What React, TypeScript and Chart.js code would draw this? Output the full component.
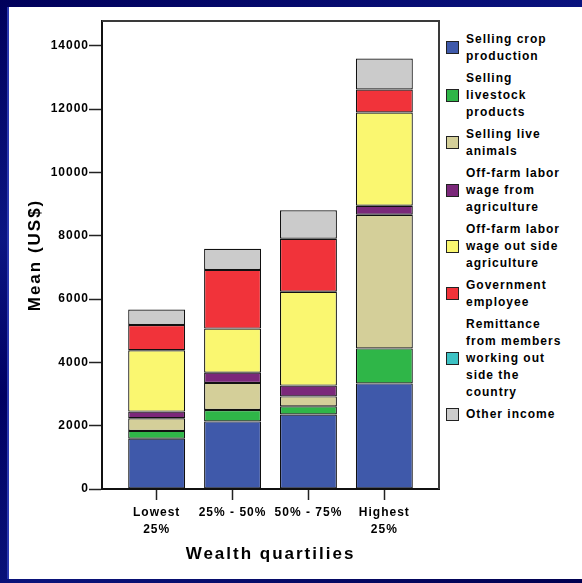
import { useEffect, useRef } from 'react';
import { Chart, registerables } from 'chart.js';

Chart.register(...registerables);

// Wealth quartiles along the x axis (multi-line where the label wraps)
const quartiles: (string | string[])[] = [['Lowest', '25%'], '25% - 50%', '50% - 75%', ['Highest', '25%']];

// Mean household income by source (US$), one value per quartile
const cropSales = [1590, 2135, 2355, 3335];
const livestockProducts = [245, 360, 255, 1105];
const liveAnimals = [400, 855, 315, 4220];
const farmWage = [210, 325, 340, 285];
const nonFarmWage = [1935, 1390, 2965, 2945];
const government = [800, 1855, 1675, 725];
const remittance = [0, 0, 0, 0];
const otherIncome = [485, 665, 895, 980];

const seriesValues = [cropSales, livestockProducts, liveAnimals, farmWage, nonFarmWage, government, remittance, otherIncome];

// Legend text, broken into the lines it is shown on
const seriesLines = [
  ['Selling crop', 'production'],
  ['Selling', 'livestock', 'products'],
  ['Selling live', 'animals'],
  ['Off-farm labor', 'wage from', 'agriculture'],
  ['Off-farm labor', 'wage out side', 'agriculture'],
  ['Government', 'employee'],
  ['Remittance', 'from members', 'working out', 'side the', 'country'],
  ['Other income'],
];

const seriesColors = ['#3f59aa', '#2fb648', '#d4cf99', '#7b287a', '#faf770', '#f1333a', '#3cc1c3', '#cbcbcb'];

// Value-axis ticks and the top of the plot frame
const yTicks = [0, 2000, 4000, 6000, 8000, 10000, 12000, 14000];
const yMax = 14780;

const FONT = "'Liberation Sans', Arial, Helvetica, sans-serif";

// Tracking for the canvas text, a frame along the top and right of the plot,
// and wider tracking for the axis titles.
const chartDecor = {
  id: 'chartDecor',
  beforeUpdate(chart: any) {
    chart.ctx.letterSpacing = '1px';
  },
  beforeDraw(chart: any) {
    chart.ctx.letterSpacing = '1px';
  },
  afterLayout(chart: any) {
    Object.values(chart.scales).forEach((scale: any) => {
      if (scale.__wideTitle) return;
      const drawTitle = scale.drawTitle.bind(scale);
      scale.drawTitle = () => {
        const ctx = chart.ctx;
        ctx.save();
        ctx.letterSpacing = '2px';
        drawTitle();
        ctx.restore();
      };
      scale.__wideTitle = true;
    });
  },
  beforeDatasetsDraw(chart: any) {
    const { ctx, chartArea } = chart;
    const { left, right, top, bottom } = chartArea;
    ctx.save();
    ctx.strokeStyle = '#3a3a3a';
    ctx.lineWidth = 2;
    ctx.beginPath();
    ctx.moveTo(left, top);
    ctx.lineTo(right, top);
    ctx.lineTo(right, bottom);
    ctx.stroke();
    ctx.restore();
  },
};

export default function App() {
  const canvasRef = useRef<HTMLCanvasElement | null>(null);

  useEffect(() => {
    const canvas = canvasRef.current;
    if (!canvas) return;

    Chart.defaults.font.family = FONT;
    Chart.defaults.font.size = 12;
    Chart.defaults.font.weight = 'bold';
    Chart.defaults.color = '#000';

    const chart = new Chart(canvas, {
      type: 'bar',
      data: {
        datasets: seriesValues.map((values, i) => ({
          label: seriesLines[i].join(' '),
          data: values.map((v, q) => ({ x: q, y: v })),
          backgroundColor: seriesColors[i],
          borderColor: '#111',
          borderWidth: 1.2,
          borderSkipped: false,
          inflateAmount: 0,
          barPercentage: 0.75,
          categoryPercentage: 1,
        })),
      },
      options: {
        responsive: false,
        animation: false,
        layout: { padding: { left: 0, right: 6, top: 21, bottom: 0 } },
        plugins: {
          legend: { display: false },
          tooltip: { enabled: false },
        },
        scales: {
          x: {
            type: 'linear',
            min: -0.72,
            max: 3.72,
            stacked: true,
            offset: false,
            afterFit: (s: any) => {
              s.height = 94;
            },
            afterBuildTicks: (s: any) => {
              s.ticks = quartiles.map((_, i) => ({ value: i }));
            },
            grid: {
              offset: false,
              drawOnChartArea: false,
              drawTicks: true,
              tickLength: 11,
              tickColor: '#222',
              tickWidth: 1.5,
            },
            border: { display: true, color: '#111', width: 2 },
            ticks: {
              autoSkip: false,
              maxRotation: 0,
              minRotation: 0,
              padding: 3.8,
              color: '#000',
              font: { size: 12, weight: 'bold', lineHeight: 1.45 },
              callback: (v: any) => (quartiles[Math.round(v)] !== undefined ? quartiles[Math.round(v)] : ''),
            },
            title: {
              display: true,
              text: 'Wealth quartilies',
              color: '#000',
              font: { size: 17, weight: 'bold' },
              padding: { top: 0, bottom: 18.8 },
            },
          },
          y: {
            min: 0,
            max: yMax,
            stacked: true,
            afterFit: (s: any) => {
              s.width = 102;
            },
            afterBuildTicks: (s: any) => {
              s.ticks = yTicks.map((v) => ({ value: v }));
            },
            grid: {
              drawOnChartArea: false,
              drawTicks: true,
              tickLength: 13,
              tickColor: '#222',
              tickWidth: 1.5,
            },
            border: { display: true, color: '#111', width: 2 },
            ticks: {
              padding: 0,
              color: '#000',
              font: { size: 12, weight: 'bold' },
              callback: (v: any) => String(v),
            },
            title: {
              display: true,
              text: 'Mean (US$)',
              color: '#000',
              font: { size: 17, weight: 'bold' },
              padding: { top: 25.1, bottom: 0 },
            },
          },
        },
      } as any,
      plugins: [chartDecor],
    });

    return () => chart.destroy();
  }, []);

  return (
    <div
      style={{
        position: 'absolute',
        left: 0,
        top: 0,
        width: 582,
        height: 583,
        overflow: 'hidden',
        background:
          'linear-gradient(160deg, #00005a 0%, #0b1582 30%, #000062 50%, #0a137a 75%, #000050 100%)',
      }}
    >
      <div
        style={{
          position: 'absolute',
          left: 9,
          top: 7,
          right: 0,
          bottom: 4,
          background: '#fff',
          boxShadow: '-2px 0 0 #2a38b0',
        }}
      />
      <canvas ref={canvasRef} width={445} height={583} style={{ position: 'absolute', left: 0, top: 0 }} />
      <div
        style={{
          position: 'absolute',
          left: 446,
          top: 30.8,
          fontFamily: FONT,
          fontSize: 12,
          fontWeight: 'bold',
          letterSpacing: '1px',
          color: '#000',
        }}
      >
        {seriesLines.map((lines, i) => (
          <div key={i} style={{ display: 'flex', alignItems: 'center', marginBottom: 5 }}>
            <div
              style={{
                width: 13,
                height: 13,
                boxSizing: 'border-box',
                border: '1.7px solid #222',
                background: seriesColors[i],
                flexShrink: 0,
              }}
            />
            <div style={{ marginLeft: 7, lineHeight: '17px', whiteSpace: 'nowrap' }}>
              {lines.map((line, j) => (
                <div key={j}>{line}</div>
              ))}
            </div>
          </div>
        ))}
      </div>
    </div>
  );
}
